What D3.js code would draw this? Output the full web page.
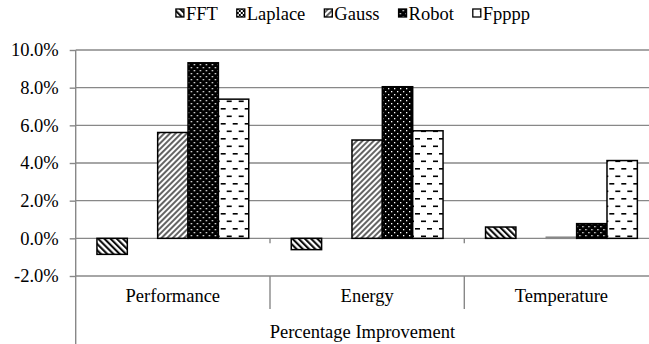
<!DOCTYPE html>
<html>
<head>
<meta charset="utf-8">
<script src="https://cdn.jsdelivr.net/npm/d3@7"></script>
<style>
    body { margin: 0; background: #fff; }
    .grid line { stroke: #888; stroke-width: 1.4; }
    .axis path { display: none; }
    .axis line { stroke: #888; stroke-width: 1.4; }
</style>
</head>
<body>
<div class="chart"></div>
<script>
var categories = ["Performance", "Energy", "Temperature"];
var series = ["FFT", "Laplace", "Gauss", "Robot", "Fpppp"];
var fft = [-0.0085, -0.006, 0.006];
var laplace = [0, 0, 0];
var gauss = [0.0562, 0.0522, 0.0006];
var robot = [0.0932, 0.0805, 0.0078];
var fpppp = [0.0739, 0.0571, 0.0413];
var yTicks = [-0.02, 0, 0.02, 0.04, 0.06, 0.08, 0.10];
var axisTitle = "Percentage Improvement";

var FONT = "'Liberation Serif'";
var FONT_SIZE = "18.5px";

function init() {
    var w = 649;
    var h = 344;
    var left = 75.7;
    var catWidth = 194.3;
    var top = 50;
    var bottom = 276;

    var values = { FFT: fft, Laplace: laplace, Gauss: gauss, Robot: robot, Fpppp: fpppp };

    var svg = d3.select(".chart")
        .append("svg")
        .attr("width", w)
        .attr("height", h);

    // fill patterns
    var defs = svg.append("defs");

    var p = defs.append("pattern").attr("id", "pat-FFT")
        .attr("patternUnits", "userSpaceOnUse")
        .attr("width", 4.4).attr("height", 4.4)
        .attr("patternTransform", "rotate(-45)");
    p.append("rect").attr("width", 4.4).attr("height", 4.4).attr("fill", "#fff");
    p.append("line").attr("x1", 1.1).attr("y1", 0).attr("x2", 1.1).attr("y2", 4.4)
        .attr("stroke", "#000").attr("stroke-width", 2);

    p = defs.append("pattern").attr("id", "pat-Laplace")
        .attr("patternUnits", "userSpaceOnUse")
        .attr("width", 4).attr("height", 4);
    p.append("rect").attr("width", 4).attr("height", 4).attr("fill", "#fff");
    p.append("rect").attr("width", 2).attr("height", 2).attr("fill", "#000");
    p.append("rect").attr("x", 2).attr("y", 2).attr("width", 2).attr("height", 2).attr("fill", "#000");

    p = defs.append("pattern").attr("id", "pat-Gauss")
        .attr("patternUnits", "userSpaceOnUse")
        .attr("width", 4).attr("height", 4)
        .attr("patternTransform", "rotate(45)");
    p.append("rect").attr("width", 4).attr("height", 4).attr("fill", "#fff");
    p.append("line").attr("x1", 1).attr("y1", 0).attr("x2", 1).attr("y2", 4)
        .attr("stroke", "#222").attr("stroke-width", 1.4);

    p = defs.append("pattern").attr("id", "pat-Robot")
        .attr("patternUnits", "userSpaceOnUse")
        .attr("width", 6).attr("height", 6);
    p.append("rect").attr("width", 6).attr("height", 6).attr("fill", "#000");
    p.append("rect").attr("x", 1).attr("y", 1).attr("width", 1.3).attr("height", 1.3).attr("fill", "#fff");
    p.append("rect").attr("x", 4).attr("y", 4).attr("width", 1.3).attr("height", 1.3).attr("fill", "#fff");

    p = defs.append("pattern").attr("id", "pat-Fpppp")
        .attr("patternUnits", "userSpaceOnUse")
        .attr("width", 12).attr("height", 15);
    p.append("rect").attr("width", 12).attr("height", 15).attr("fill", "#fff");
    p.append("rect").attr("x", 1).attr("y", 3).attr("width", 5).attr("height", 1.6).attr("fill", "#000");
    p.append("rect").attr("x", 7).attr("y", 10.5).attr("width", 5).attr("height", 1.6).attr("fill", "#000");

    var yScale = d3.scaleLinear()
        .domain([-0.02, 0.10])
        .range([bottom, top]);

    var xScale = d3.scaleBand()
        .domain(categories)
        .range([left, left + catWidth * categories.length]);

    var xInner = d3.scaleBand()
        .domain(series)
        .range([0, xScale.bandwidth()])
        .paddingOuter(0.7);

    // gridlines
    svg.append("g")
        .attr("class", "grid")
        .selectAll("line")
        .data(yTicks)
        .enter()
        .append("line")
        .attr("x1", left)
        .attr("x2", w)
        .attr("y1", function (d) { return yScale(d); })
        .attr("y2", function (d) { return yScale(d); });

    // small ticks on the zero line between categories
    svg.append("g")
        .attr("class", "grid")
        .selectAll("line")
        .data(categories.slice(1))
        .enter()
        .append("line")
        .attr("x1", function (d) { return xScale(d); })
        .attr("x2", function (d) { return xScale(d); })
        .attr("y1", yScale(0))
        .attr("y2", yScale(0) + 5);

    // bars
    var groups = svg.append("g")
        .selectAll("g")
        .data(categories)
        .enter()
        .append("g")
        .attr("transform", function (d) { return "translate(" + xScale(d) + ",0)"; });

    groups.selectAll("rect")
        .data(function (c, i) {
            return series.map(function (s) { return { s: s, v: values[s][i] }; });
        })
        .enter()
        .filter(function (d) { return d.v !== 0; })
        .append("rect")
        .attr("x", function (d) { return xInner(d.s); })
        .attr("width", xInner.bandwidth())
        .attr("y", function (d) { return yScale(Math.max(0, d.v)); })
        .attr("height", function (d) { return Math.abs(yScale(d.v) - yScale(0)); })
        .attr("fill", function (d) { return "url(#pat-" + d.s + ")"; })
        .attr("stroke", function (d) { return Math.abs(d.v) < 0.001 ? "#888" : "#000"; })
        .attr("stroke-width", 1.5);

    // y axis
    var fmt = d3.format(".1%");
    var yAxis = d3.axisLeft(yScale)
        .tickValues(yTicks)
        .tickSize(6)
        .tickPadding(11)
        .tickFormat(function (d) { return fmt(d).replace("\u2212", "-"); });

    svg.append("g")
        .attr("class", "axis")
        .attr("transform", "translate(" + left + ",0)")
        .call(yAxis)
        .selectAll("text")
        .style("font-family", FONT)
        .style("font-size", FONT_SIZE)
        .style("fill", "#000");

    svg.append("line")
        .attr("x1", left).attr("x2", left)
        .attr("y1", top).attr("y2", h)
        .style("stroke", "#888")
        .style("stroke-width", 1.4);

    // category separators
    svg.selectAll(".sep")
        .data(categories.slice(1))
        .enter()
        .append("line")
        .attr("class", "sep")
        .attr("x1", function (d) { return xScale(d); })
        .attr("x2", function (d) { return xScale(d); })
        .attr("y1", bottom)
        .attr("y2", 309)
        .style("stroke", "#888")
        .style("stroke-width", 1.4);

    svg.selectAll(".catLabel")
        .data(categories)
        .enter()
        .append("text")
        .attr("class", "catLabel")
        .attr("x", function (d) { return xScale(d) + xScale.bandwidth() / 2; })
        .attr("y", 302)
        .attr("text-anchor", "middle")
        .style("font-family", FONT)
        .style("font-size", FONT_SIZE)
        .text(function (d) { return d; });

    svg.append("text")
        .attr("x", (left + w) / 2)
        .attr("y", 338)
        .attr("text-anchor", "middle")
        .style("font-family", FONT)
        .style("font-size", FONT_SIZE)
        .text(axisTitle);

    // legend
    var legend = svg.append("g");
    var lx = 0;
    series.forEach(function (s) {
        var item = legend.append("g").attr("transform", "translate(" + lx + ",0)");
        item.append("rect")
            .attr("x", 0).attr("y", 9)
            .attr("width", 8).attr("height", 8)
            .attr("fill", "url(#pat-" + s + ")")
            .attr("stroke", "#000")
            .attr("stroke-width", 1.3);
        var t = item.append("text")
            .attr("x", 10)
            .attr("y", 20)
            .style("font-family", FONT)
            .style("font-size", FONT_SIZE)
            .text(s);
        lx += 10 + t.node().getComputedTextLength() + 19;
    });
    var lw = lx - 19;
    legend.attr("transform", "translate(" + (353 - lw / 2) + ",0)");
}

init();
</script>
</body>
</html>
